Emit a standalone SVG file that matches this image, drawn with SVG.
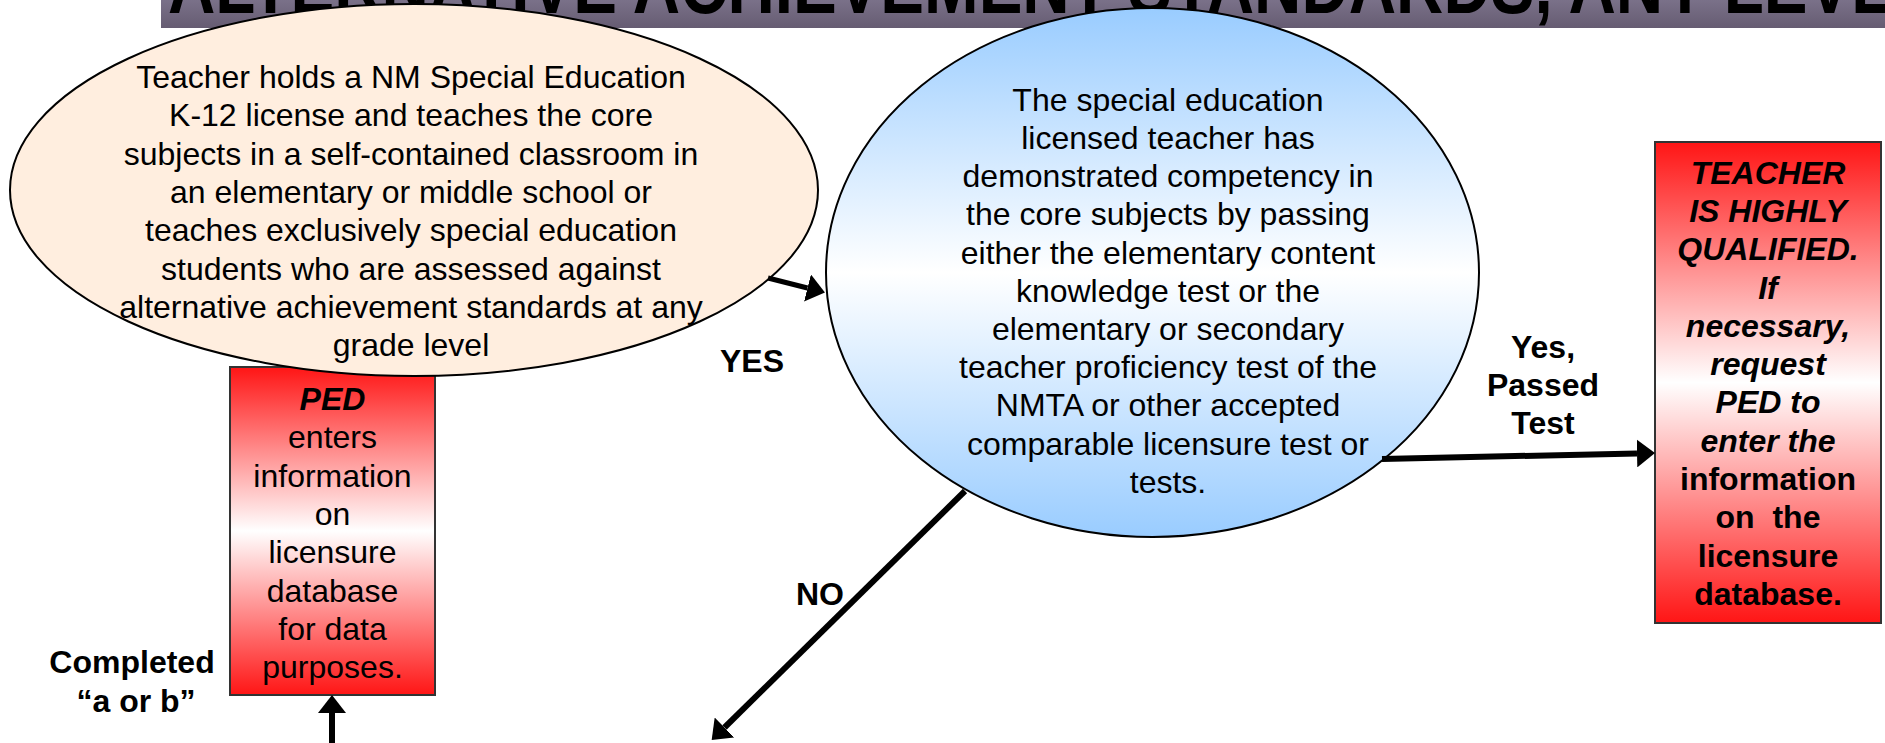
<svg xmlns="http://www.w3.org/2000/svg" width="1885" height="743" viewBox="0 0 1885 743">
<style>
.t{font-family:"Liberation Sans",Arial,sans-serif;font-size:32px;text-anchor:middle;fill:#000}
.b{font-weight:bold}
.i{font-style:italic}
.box{stroke:#333;stroke-width:2}
.ell{stroke:#000;stroke-width:2}
.c{stroke:#000;fill:none}
</style>
<defs>
<linearGradient id="gBanner" x1="0" y1="0" x2="0" y2="1">
<stop offset="0" stop-color="#7a7189"/>
<stop offset="1" stop-color="#665c72"/>
</linearGradient>
<linearGradient id="gBlue" x1="0" y1="0" x2="0" y2="1">
<stop offset="0" stop-color="#99CCFF"/>
<stop offset="0.5" stop-color="#FFFFFF"/>
<stop offset="1" stop-color="#99CCFF"/>
</linearGradient>
<linearGradient id="gRed" x1="0" y1="0" x2="0" y2="1">
<stop offset="0" stop-color="#FF1515"/>
<stop offset="0.5" stop-color="#FFFFFF"/>
<stop offset="1" stop-color="#FF1515"/>
</linearGradient>
<marker id="ah" markerUnits="userSpaceOnUse" markerWidth="18" markerHeight="28" refX="0" refY="14" orient="auto" viewBox="0 0 18 28">
<path d="M0,0 L18,14 L0,28 z" fill="#000"/>
</marker>
</defs>

<g id="banner">
<rect x="161" y="0" width="1724" height="28" fill="url(#gBanner)"/>
<text x="168" y="13" font-family="'Liberation Sans Narrow','Liberation Sans',Arial,sans-serif" font-weight="bold" font-size="80" fill="#000" textLength="1767" lengthAdjust="spacingAndGlyphs">ALTERNATIVE ACHIEVEMENT STANDARDS, ANY LEVEL</text>
</g>

<g id="ped-box">
<rect class="box" x="230" y="367" width="205" height="328" fill="url(#gRed)"/>
<text class="t" x="332.5" font-size="31.5"><tspan x="332.5" y="410" class="b i">PED</tspan><tspan x="332.5" y="448.3">enters</tspan><tspan x="332.5" y="486.6">information</tspan><tspan x="332.5" y="524.9">on</tspan><tspan x="332.5" y="563.2">licensure</tspan><tspan x="332.5" y="601.5">database</tspan><tspan x="332.5" y="639.8">for data</tspan><tspan x="332.5" y="678.1">purposes.</tspan></text>
</g>

<g id="start-ellipse">
<ellipse class="ell" cx="414" cy="190" rx="404" ry="186" fill="#FFEEDF"/>
<text class="t"><tspan x="411" y="88">Teacher holds a NM Special Education</tspan><tspan x="411" y="126.3">K-12 license and teaches the core</tspan><tspan x="411" y="164.6">subjects in a self-contained classroom in</tspan><tspan x="411" y="202.9">an elementary or middle school or</tspan><tspan x="411" y="241.2">teaches exclusively special education</tspan><tspan x="411" y="279.5">students who are assessed against</tspan><tspan x="411" y="317.8">alternative achievement standards at any</tspan><tspan x="411" y="356.1">grade level</tspan></text>
</g>

<g id="test-ellipse">
<ellipse class="ell" cx="1152.5" cy="272.5" rx="326.5" ry="264.5" fill="url(#gBlue)"/>
<text class="t"><tspan x="1168" y="110.7">The special education</tspan><tspan x="1168" y="148.9">licensed teacher has</tspan><tspan x="1168" y="187.1">demonstrated competency in</tspan><tspan x="1168" y="225.3">the core subjects by passing</tspan><tspan x="1168" y="263.5">either the elementary content</tspan><tspan x="1168" y="301.7">knowledge test or the</tspan><tspan x="1168" y="339.9">elementary or secondary</tspan><tspan x="1168" y="378.1">teacher proficiency test of the</tspan><tspan x="1168" y="416.3">NMTA or other accepted</tspan><tspan x="1168" y="454.5">comparable licensure test or</tspan><tspan x="1168" y="492.7">tests.</tspan></text>
</g>

<g id="hq-box">
<rect class="box" x="1655" y="142" width="226" height="481" fill="url(#gRed)"/>
<text class="t b" font-size="31.5"><tspan class="i" x="1768" y="183.6">TEACHER</tspan><tspan class="i" x="1768" y="221.9">IS HIGHLY</tspan><tspan class="i" x="1768" y="260.2">QUALIFIED.</tspan><tspan class="i" x="1768" y="298.5">If</tspan><tspan class="i" x="1768" y="336.8">necessary,</tspan><tspan class="i" x="1768" y="375.1">request</tspan><tspan class="i" x="1768" y="413.4">PED to</tspan><tspan class="i" x="1768" y="451.7">enter the</tspan><tspan x="1768" y="490">information</tspan><tspan x="1768" y="528.3">on&#160; the</tspan><tspan x="1768" y="566.6">licensure</tspan><tspan x="1768" y="604.9">database.</tspan></text>
</g>

<g id="connectors">
<line class="c" x1="768" y1="278" x2="807.5" y2="288" stroke-width="5" marker-end="url(#ah)"/>
<line class="c" x1="1382" y1="459" x2="1637" y2="453.4" stroke-width="6" marker-end="url(#ah)"/>
<line class="c" x1="965" y1="491" x2="724.5" y2="727.5" stroke-width="6" marker-end="url(#ah)"/>
<line class="c" x1="332" y1="743" x2="332" y2="713" stroke-width="6" marker-end="url(#ah)"/>
</g>

<g id="labels">
<text class="t b" x="752" y="372" font-size="35">YES</text>
<text class="t b" x="820" y="605" font-size="35">NO</text>
<text class="t b" font-size="31.5"><tspan x="1543" y="358">Yes,</tspan><tspan x="1543" y="396">Passed</tspan><tspan x="1543" y="434">Test</tspan></text>
<text class="t b" font-size="31.5"><tspan x="132" y="673">Completed</tspan><tspan x="136" y="712">“a or b”</tspan></text>
</g>
</svg>
